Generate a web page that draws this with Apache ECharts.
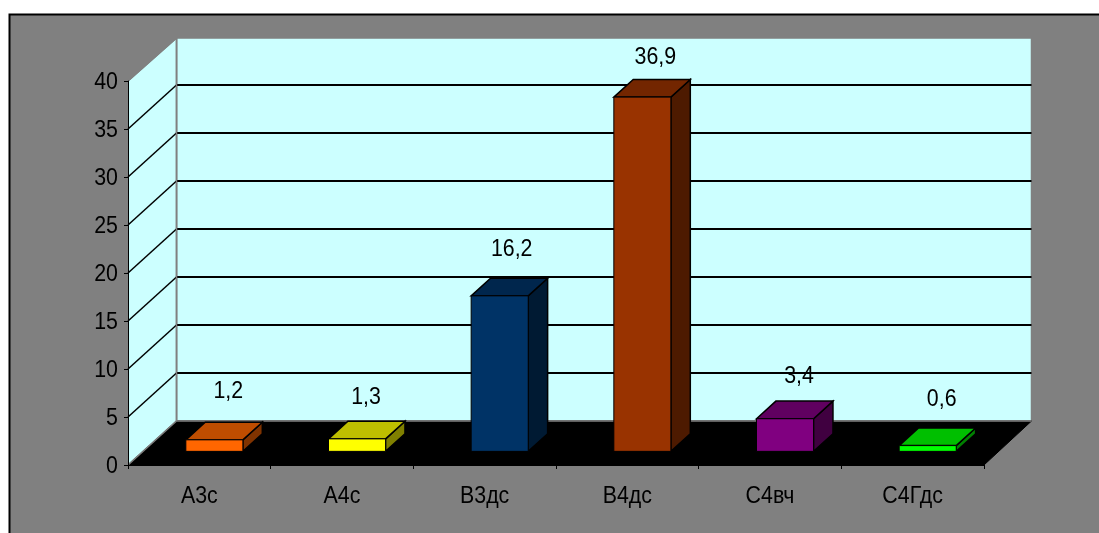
<!DOCTYPE html>
<html>
<head>
<meta charset="utf-8">
<style>html,body{margin:0;padding:0;background:#fff}#chart{width:1099px;height:533px}</style>
<script src="https://cdn.jsdelivr.net/npm/echarts@6/dist/echarts.min.js"></script>
</head>
<body>
<div id="chart"></div>
<script>
// Class shares shown as pseudo-3D columns on a walled floor.
const categories = ['А3с', 'А4с', 'В3дс', 'В4дс', 'С4вч', 'С4Гдс'];
const values = [1.2, 1.3, 16.2, 36.9, 3.4, 0.6];
const gridValues = [5, 10, 15, 20, 25, 30, 35];
const tickLabels = [0, 5, 10, 15, 20, 25, 30, 35, 40];
const frontColors = ['#FF6600', '#FFFF00', '#003366', '#993300', '#800080', '#00FF00'];
const topColors = ['#BF4D00', '#BFBF00', '#00264D', '#732600', '#600060', '#00BF00'];
const sideColors = ['#803300', '#808000', '#001A33', '#4D1A00', '#400040', '#008000'];

const FONT = '24px "Liberation Sans",Arial,sans-serif';
const TEXT_SQUEEZE = 0.89;                 // labels are set slightly condensed
const DEPTH_X = 48.5, DEPTH_Y = 44;        // floor depth projected on screen
const BAR_NEAR = 0.31, BAR_FAR = 0.71;     // column extent along the floor depth
const LABEL_DX = 28, LABEL_DY = 58;        // value label offset from the front plane
const labelNudge = [[1, -4], [-4, 3], [-1, -2], [0, 5], [1, 2], [1, -2]];

function poly(points, fill, stroke, width) {
  return {
    type: 'polygon',
    shape: { points: points },
    style: { fill: fill, stroke: stroke || null, lineWidth: width || 0, lineJoin: 'miter' }
  };
}

function line(x1, y1, x2, y2, color, width) {
  return {
    type: 'line',
    shape: { x1: x1, y1: y1, x2: x2, y2: y2 },
    style: { stroke: color, lineWidth: width, fill: null }
  };
}

function label(text, x, y, align) {
  return {
    type: 'text',
    x: x,
    y: y,
    scaleX: TEXT_SQUEEZE,
    style: { text: text, font: FONT, fill: '#000', align: align, verticalAlign: 'middle' }
  };
}

// Side wall, back wall, floor and the gridlines that run across both walls.
function renderRoom(params, api) {
  const c = params.coordSys;
  const l = c.x, r = c.x + c.width, t = c.y, b = c.y + c.height;
  const bl = l + DEPTH_X, br = r + DEPTH_X - 1, bt = t - DEPTH_Y + 1, bb = b - DEPTH_Y;
  const children = [
    poly([[bl, bt], [br, bt], [br, bb], [bl, bb]], '#CCFFFF', '#808080', 1.5),
    poly([[l, t], [bl, bt], [bl, bb], [l, b]], '#CCFFFF', '#808080', 1.5)
  ];
  gridValues.forEach(function (v) {
    const y = api.coord([0, v])[1];
    children.push(line(l, y, bl, y - DEPTH_Y, '#000', 1.5));
    children.push(line(bl, y - DEPTH_Y, br, y - DEPTH_Y, '#000', 2));
  });
  children.push(poly([[l, b], [r, b], [br, bb], [bl, bb]], '#000', '#000', 1));
  children.push(line(l, t, bl, bt, '#808080', 1.5));
  children.push(line(l, b, bl, bb, '#808080', 1.5));
  children.push(line(bl, bb, br, bb, '#808080', 1.5));
  children.push(line(bl, bt, bl, bb, '#808080', 1.5));
  return { type: 'group', children: children };
}

// One column: front, top and right faces, offset into the floor depth.
function renderColumn(params, api) {
  const i = api.value(0), v = api.value(1);
  const top = api.coord([i, v]);
  const base = api.coord([i, 0]);
  const w = api.size([1, 0])[0] * 0.4;
  const nearX = top[0] + BAR_NEAR * DEPTH_X, nearDy = BAR_NEAR * DEPTH_Y;
  const ddx = (BAR_FAR - BAR_NEAR) * DEPTH_X, ddy = (BAR_FAR - BAR_NEAR) * DEPTH_Y;
  const x0 = nearX - w / 2, x1 = nearX + w / 2;
  const yt = top[1] - nearDy, yb = base[1] - nearDy;
  const edge = '#000';
  return {
    type: 'group',
    children: [
      poly([[x1, yt], [x1 + ddx, yt - ddy], [x1 + ddx, yb - ddy], [x1, yb]], sideColors[i], edge, 1.5),
      poly([[x0, yt], [x0 + ddx, yt - ddy], [x1 + ddx, yt - ddy], [x1, yt]], topColors[i], edge, 1.5),
      poly([[x0, yt], [x1, yt], [x1, yb], [x0, yb]], frontColors[i], edge, 1)
    ]
  };
}

// Value label above each column, with a decimal comma.
function renderValueLabel(params, api) {
  const i = api.value(0), v = api.value(1);
  const p = api.coord([i, v]);
  return label(String(v).replace('.', ','),
    p[0] + LABEL_DX + labelNudge[i][0], p[1] - LABEL_DY + labelNudge[i][1], 'center');
}

// Category names under the floor.
function renderCategoryLabel(params, api) {
  const i = api.value(0);
  const p = api.coord([i, 0]);
  return label(categories[i], p[0], p[1] + 31, 'center');
}

// Value axis numbers, left of the tick marks.
function renderTickLabel(params, api) {
  const v = api.value(1);
  const p = api.coord([0, v]);
  return label(String(v), params.coordSys.x - 10, p[1] + 1, 'right');
}

const chart = echarts.init(document.getElementById('chart'), null, { renderer: 'canvas' });
const columnData = values.map(function (v, i) { return [i, v]; });

chart.setOption({
  animation: false,
  backgroundColor: '#fff',
  graphic: [{
    type: 'rect',
    z: -10,
    shape: { x: 9.5, y: 14.5, width: 1200, height: 600 },
    style: { fill: '#808080', stroke: '#000', lineWidth: 2 }
  }],
  grid: { left: 128, right: 115, top: 81, bottom: 68 },
  xAxis: {
    type: 'category',
    data: categories,
    boundaryGap: true,
    axisLine: { show: true, lineStyle: { color: '#000', width: 1 } },
    axisTick: { show: true, length: 4, lineStyle: { color: '#000', width: 1 }, alignWithLabel: false },
    axisLabel: { show: false },
    z: 5
  },
  yAxis: {
    type: 'value',
    min: 0,
    max: 40,
    interval: 5,
    splitLine: { show: false },
    axisLine: { show: true, lineStyle: { color: '#000', width: 1 } },
    axisTick: { show: true, length: 4, lineStyle: { color: '#000', width: 1 } },
    axisLabel: { show: false },
    z: 5
  },
  series: [
    { type: 'custom', name: 'room', silent: true, z: 1, renderItem: renderRoom, data: [[0, 0]] },
    { type: 'custom', name: 'columns', silent: true, z: 2, renderItem: renderColumn, data: columnData },
    { type: 'custom', name: 'values', silent: true, z: 3, renderItem: renderValueLabel, data: columnData },
    { type: 'custom', name: 'categories', silent: true, z: 3, renderItem: renderCategoryLabel,
      data: categories.map(function (c, i) { return [i, 0]; }) },
    { type: 'custom', name: 'ticks', silent: true, z: 3, renderItem: renderTickLabel,
      data: tickLabels.map(function (v) { return [0, v]; }) }
  ]
});
</script>
</body>
</html>
